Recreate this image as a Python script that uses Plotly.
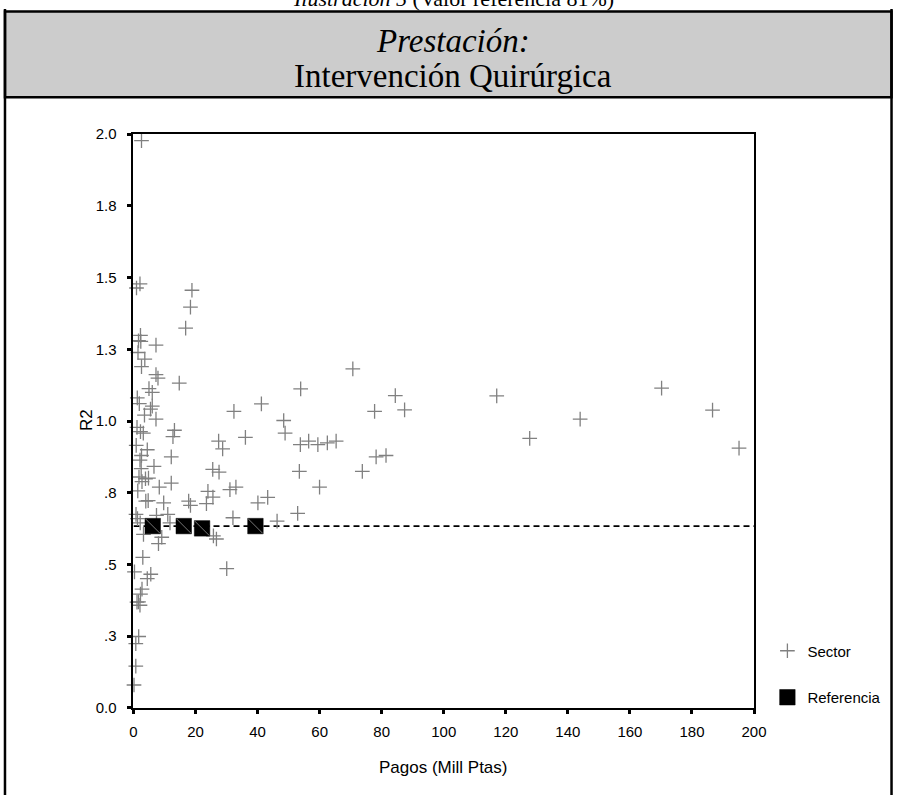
import plotly.graph_objects as go

# ---------------- data ----------------
sector_pagos = [2.58, 2.09, 0.97, 18.84, 18.36, 16.81, 2.25, 1.61, 2.35, 7.25,
                1.45, 3.64, 2.58, 7.25, 7.89, 14.75, 4.99, 6.05, 1.22, 1.87,
                6.05, 5.48, 3.54, 7.25, 32.37, 41.22, 1.13, 2.25, 3.16, 13.20,
                12.72, 36.07, 27.44, 28.73, 0.87, 4.44, 2.58, 2.09, 12.17, 6.60,
                2.48, 25.54, 27.57, 1.77, 3.86, 4.83, 2.74, 12.17, 8.31, 1.38,
                23.99, 25.60, 4.73, 3.96, 9.73, 17.78, 18.36, 23.51, 31.08, 33.01,
                0.81, 1.29, 11.05, 11.76, 7.41, 2.16, 3.22, 9.11, 8.05, 25.76,
                26.73, 3.00, 0.32, 5.57, 4.44, 30.05, 2.74, 2.25, 1.61, 2.09,
                1.13, 1.67, 0.74, 0.74, 0.16, 70.69, 53.88, 84.38, 117.07, 77.71,
                87.38, 143.96, 48.41, 48.86, 127.70, 53.78, 56.46, 59.42, 62.48, 65.31,
                78.20, 81.39, 53.46, 73.75, 59.97, 40.10, 43.25, 52.91, 32.05, 46.28,
                170.21, 186.63, 195.17]
sector_r2 = [1.978, 1.478, 1.464, 1.456, 1.397, 1.324, 1.299, 1.280, 1.278, 1.265,
             1.239, 1.216, 1.190, 1.162, 1.150, 1.132, 1.113, 1.100, 1.081, 1.061,
             1.052, 1.042, 1.021, 1.007, 1.034, 1.060, 0.978, 0.963, 0.958, 0.968,
             0.946, 0.943, 0.930, 0.903, 0.915, 0.900, 0.880, 0.864, 0.875, 0.842,
             0.834, 0.832, 0.822, 0.805, 0.799, 0.801, 0.789, 0.784, 0.770, 0.757,
             0.755, 0.735, 0.723, 0.721, 0.715, 0.721, 0.706, 0.712, 0.761, 0.770,
             0.675, 0.660, 0.675, 0.645, 0.671, 0.645, 0.605, 0.595, 0.573, 0.600,
             0.589, 0.525, 0.474, 0.466, 0.451, 0.486, 0.414, 0.397, 0.370, 0.358,
             0.369, 0.249, 0.224, 0.146, 0.080, 1.182, 1.112, 1.089, 1.088, 1.034,
             1.039, 1.007, 1.002, 0.958, 0.940, 0.918, 0.930, 0.918, 0.924, 0.930,
             0.875, 0.880, 0.825, 0.825, 0.770, 0.715, 0.734, 0.678, 0.663, 0.651,
             1.115, 1.038, 0.906]

ref_pagos = [6.2, 16.2, 22.1, 39.3]
ref_r2 = [0.634, 0.634, 0.626, 0.634]
ref_value = 0.634
x_range = [0, 200]

y_tickvals = [0, 0.25, 0.5, 0.75, 1.0, 1.25, 1.5, 1.75, 2.0]
y_ticktext = ["0.0", ".3", ".5", ".8", "1.0", "1.3", "1.5", "1.8", "2.0"]
x_tickvals = [0, 20, 40, 60, 80, 100, 120, 140, 160, 180, 200]

title_top = "<i>Ilustración 5</i> (Valor referencia 81%)"
title_1 = "<i>Prestación:</i>"
title_2 = "Intervención Quirúrgica"

# ---------------- layout helpers ----------------
# target positions are given in picture pixels; the photographed page shows
# the figure slightly offset/scaled, so map picture pixels back to paper.
W, H = 906, 803
SX, OX = 0.982, 3.4
SY, OY = 0.981, 7.5
def fx(p):
    return (p - OX) / SX / W
def fy(p):
    return 1 - (p - OY) / SY / H

X_LEFT_EDGE = 1.0 / W          # keep border lines inside the drawing
X_RIGHT_EDGE = 904.5 / W

SANS = "Liberation Sans, Arial, sans-serif"
SERIF = "Liberation Serif, Times New Roman, serif"

fig = go.Figure()

# dashed reference line
fig.add_trace(go.Scatter(
    x=x_range, y=[ref_value, ref_value], mode="lines",
    line=dict(color="black", width=1.6, dash="6px,4px"),
    showlegend=False, hoverinfo="skip", cliponaxis=False))

fig.add_trace(go.Scatter(
    x=sector_pagos, y=sector_r2, mode="markers", name="Sector",
    legendgroup="s",
    marker=dict(symbol="cross-thin", size=10.5,
                line=dict(color="#808080", width=1.3), color="#808080"),
    cliponaxis=False))

fig.add_trace(go.Scatter(
    x=ref_pagos, y=ref_r2, mode="markers", name="Referencia",
    legendgroup="r",
    marker=dict(symbol="square", size=15.5, color="black",
                line=dict(color="black", width=0.5)),
    cliponaxis=False))

fig.add_trace(go.Scatter(
    x=ref_pagos, y=ref_r2, mode="markers", showlegend=False,
    hoverinfo="skip",
    marker=dict(symbol="line-nw", size=14.5,
                line=dict(color="#777777", width=1)),
    cliponaxis=False))

shapes = [
    # gray title band
    dict(type="rect", xref="paper", yref="paper",
         x0=X_LEFT_EDGE, x1=X_RIGHT_EDGE, y0=fy(96), y1=fy(10),
         fillcolor="#cccccc", line=dict(color="black", width=2.5), layer="below"),
    # outer vertical borders
    dict(type="line", xref="paper", yref="paper",
         x0=X_LEFT_EDGE, x1=X_LEFT_EDGE, y0=0, y1=1,
         line=dict(color="black", width=2.5)),
    dict(type="line", xref="paper", yref="paper",
         x0=X_RIGHT_EDGE, x1=X_RIGHT_EDGE, y0=0, y1=1,
         line=dict(color="black", width=2.5)),
]

annotations = [
    dict(text=title_top, xref="paper", yref="paper", x=fx(453), y=fy(12),
         xanchor="center", yanchor="bottom", showarrow=False,
         font=dict(family=SERIF, size=22, color="black")),
    dict(text=title_1, xref="paper", yref="paper", x=fx(453), y=fy(40),
         xanchor="center", yanchor="middle", showarrow=False,
         font=dict(family=SERIF, size=33, color="black")),
    dict(text=title_2, xref="paper", yref="paper", x=fx(453), y=fy(75),
         xanchor="center", yanchor="middle", showarrow=False,
         font=dict(family=SERIF, size=33, color="black")),
    dict(text="R2", xref="paper", yref="paper", x=fx(86), y=fy(420),
         xanchor="center", yanchor="middle", showarrow=False, textangle=-90,
         font=dict(family=SANS, size=17, color="black")),
    dict(text="Pagos (Mill Ptas)", xref="paper", yref="paper", x=fx(443), y=fy(768),
         xanchor="center", yanchor="middle", showarrow=False,
         font=dict(family=SANS, size=17, color="black")),
]

fig.update_layout(
    width=W, height=H, autosize=False,
    margin=dict(l=0, r=0, t=0, b=0, pad=0),
    paper_bgcolor="white", plot_bgcolor="white",
    shapes=shapes, annotations=annotations,
    showlegend=True,
    legend=dict(x=fx(767.4), y=fy(634.4), xanchor="left", yanchor="top",
                font=dict(family=SANS, size=15, color="black"),
                bgcolor="rgba(0,0,0,0)", tracegroupgap=24,
                traceorder="grouped"),
    xaxis=dict(domain=[fx(133), fx(754)], range=x_range,
               tickvals=x_tickvals, ticks="outside", ticklen=4, tickwidth=3,
               tickcolor="black", showline=True, linecolor="black", linewidth=2,
               mirror=True, showgrid=False, zeroline=False,
               ticklabelstandoff=5,
               tickfont=dict(family=SANS, size=15, color="black")),
    yaxis=dict(domain=[fy(708), fy(133)], range=[0, 2],
               tickvals=y_tickvals, ticktext=y_ticktext, ticks="outside",
               ticklen=4, tickwidth=3, tickcolor="black",
               showline=True, linecolor="black", linewidth=2, mirror=True,
               showgrid=False, zeroline=False,
               ticklabelstandoff=8,
               tickfont=dict(family=SANS, size=15, color="black")),
)

css_fix = (
    "var s=document.createElement('style');"
    "s.textContent='html,body{margin:0!important;padding:0!important;overflow:hidden!important;}';"
    "document.head.appendChild(s);window.scrollTo(0,0);"
)

fig.write_html(
    "out.html",
    config={"displayModeBar": False, "responsive": False},
    post_script=css_fix,
)
